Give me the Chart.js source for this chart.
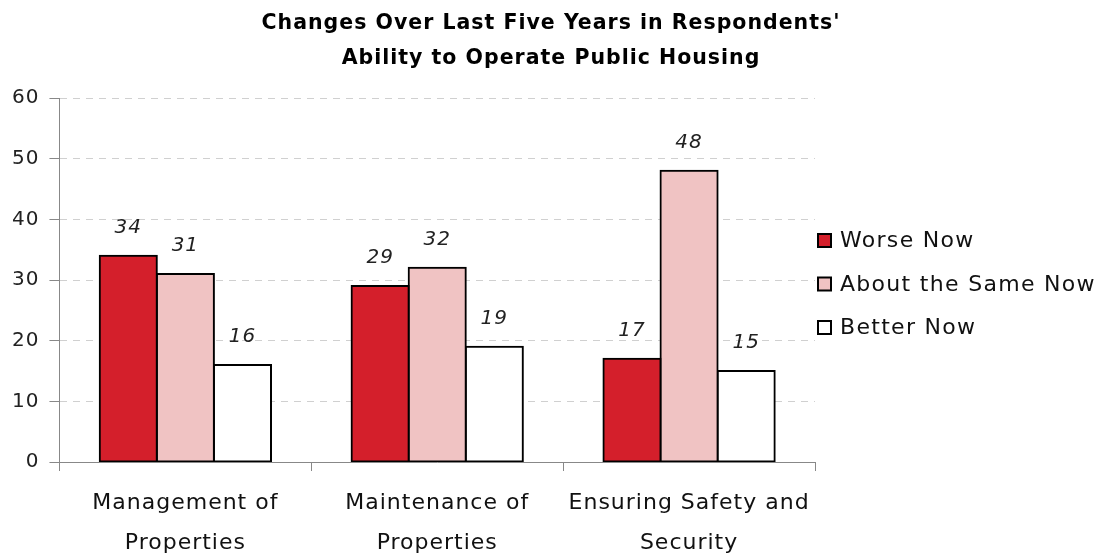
<!DOCTYPE html>
<html>
<head>
<meta charset="utf-8">
<script src="https://cdn.jsdelivr.net/npm/chart.js@4.4.0/dist/chart.umd.min.js"></script>
<style>
  html, body { margin: 0; padding: 0; background: #fff; }
  #wrap { width: 1100px; height: 557px; }
</style>
</head>
<body>
<div id="wrap"><canvas id="chart" width="1100" height="557"></canvas></div>
<script>
const categories = [
  ["Management of", "Properties"],
  ["Maintenance of", "Properties"],
  ["Ensuring Safety and", "Security"]
];
const worseNow = [34, 29, 17];
const sameNow = [31, 32, 48];
const betterNow = [16, 19, 15];
const seriesNames = ["Worse Now", "About the Same Now", "Better Now"];
const seriesColors = ["#D41F2B", "#F0C3C3", "#FFFFFF"];
const yTicks = [0, 10, 20, 30, 40, 50, 60];

const FONT = "'DejaVu Sans', sans-serif";

// the original font is wide, so open up the letters a bit
const spacing = {
  id: "spacing",
  beforeUpdate(chart) { chart.ctx.letterSpacing = "1px"; },
  beforeDraw(chart) { chart.ctx.letterSpacing = "1px"; }
};

// value labels above bars, italic
const barLabels = {
  id: "barLabels",
  afterDatasetsDraw(chart) {
    const ctx = chart.ctx;
    ctx.save();
    ctx.font = "italic 20px " + FONT;
    ctx.fillStyle = "#222";
    ctx.textAlign = "center";
    ctx.textBaseline = "alphabetic";
    chart.data.datasets.forEach((ds, i) => {
      chart.getDatasetMeta(i).data.forEach((bar, j) => {
        ctx.fillText(ds.data[j], bar.x, bar.y - 23);
      });
    });
    ctx.restore();
  }
};

// legend as a layout box on the right, so the title still spans the whole width
const sideLegend = {
  id: "sideLegend",
  beforeInit(chart) {
    const box = {
      position: "right",
      weight: 0,
      fullSize: false,
      options: {},
      isHorizontal() { return false; },
      update(maxWidth, maxHeight) {
        this.width = 285;
        this.height = maxHeight;
      },
      draw() {
        const ctx = chart.ctx;
        const area = chart.chartArea;
        const rowGap = 43.5;
        const midY = (area.top + area.bottom) / 2 + 4;
        const x = area.right + 3;
        ctx.save();
        ctx.letterSpacing = "1.3px";
        ctx.font = "22px " + FONT;
        ctx.textBaseline = "middle";
        ctx.textAlign = "left";
        chart.data.datasets.forEach((ds, i) => {
          const y = midY + (i - 1) * rowGap;
          ctx.fillStyle = ds.backgroundColor;
          ctx.fillRect(x, y - 6.5, 13, 13);
          ctx.strokeStyle = "#000";
          ctx.lineWidth = 2;
          ctx.strokeRect(x, y - 6.5, 13, 13);
          ctx.fillStyle = "#111";
          ctx.fillText(ds.label, x + 22, y + 1);
        });
        ctx.restore();
      }
    };
    Chart.layouts.addBox(chart, box);
  }
};

new Chart(document.getElementById("chart"), {
  type: "bar",
  data: {
    labels: categories,
    datasets: [0, 1, 2].map(i => ({
      label: seriesNames[i],
      data: [worseNow, sameNow, betterNow][i],
      backgroundColor: seriesColors[i],
      borderColor: "#000",
      borderWidth: 2,
      borderSkipped: false,
      inflateAmount: 1,
      categoryPercentage: 0.68,
      barPercentage: 1.0
    }))
  },
  options: {
    responsive: false,
    animation: false,
    layout: { padding: { left: 2, right: 0, top: 0, bottom: 0 } },
    plugins: {
      title: {
        display: true,
        text: ["Changes Over Last Five Years in Respondents'", "Ability to Operate Public Housing"],
        color: "#000",
        font: { family: FONT, size: 20.5, weight: "bold", lineHeight: 35 / 20.5 },
        padding: { top: 6, bottom: 22 }
      },
      legend: { display: false },
      tooltip: { enabled: false }
    },
    scales: {
      x: {
        grid: {
          offset: true,
          drawOnChartArea: false,
          tickLength: 9,
          tickColor: "#888"
        },
        border: { color: "#888", width: 1 },
        ticks: {
          color: "#111",
          font: { family: FONT, size: 22, lineHeight: 40 / 22 },
          padding: 12,
          maxRotation: 0
        },
        afterFit(scale) {
          scale.height = 95;
        }
      },
      y: {
        min: yTicks[0],
        max: yTicks[yTicks.length - 1],
        afterBuildTicks(axis) {
          axis.ticks = yTicks.map(v => ({ value: v }));
        },
        grid: {
          color: "#d0d0d0",
          tickColor: "#888",
          tickLength: 10,
          tickBorderDash: []
        },
        border: { color: "#888", width: 1, dash: [7, 6] },
        ticks: {
          color: "#222",
          font: { family: FONT, size: 20 },
          padding: 10
        }
      }
    }
  },
  plugins: [spacing, barLabels, sideLegend]
});
</script>
</body>
</html>
